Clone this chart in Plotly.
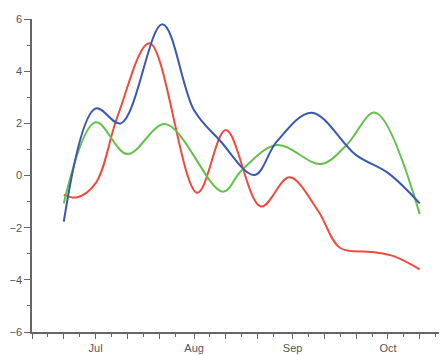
import plotly.graph_objects as go

blue_dates = ["2021-06-21", "2021-07-01", "2021-07-09", "2021-07-22", "2021-08-01", "2021-08-09",
              "2021-08-20", "2021-08-27", "2021-09-07", "2021-09-21", "2021-10-01", "2021-10-11"]
blue_vals = [-1.77, 2.57, 2.0, 5.8, 2.5, 1.36, 0.02, 1.3, 2.41, 0.78, 0.1, -1.07]

green_dates = ["2021-06-21", "2021-07-01", "2021-07-11", "2021-07-23", "2021-08-10", "2021-08-16",
               "2021-08-27", "2021-09-10", "2021-09-18", "2021-09-27", "2021-10-11"]
green_vals = [-1.07, 2.04, 0.82, 1.97, -0.62, 0.2, 1.17, 0.44, 1.17, 2.41, -1.48]

red_dates = ["2021-06-21", "2021-06-25", "2021-07-01", "2021-07-08", "2021-07-18", "2021-08-02",
             "2021-08-11", "2021-08-22", "2021-08-31", "2021-09-09", "2021-09-16", "2021-09-26",
             "2021-10-03", "2021-10-11"]
red_vals = [-0.73, -0.84, -0.3, 2.3, 5.07, -0.66, 1.74, -1.19, -0.07, -1.35, -2.78, -2.93,
            -3.1, -3.6]

month_ticks = ["2021-06-11", "2021-06-21", "2021-07-01", "2021-07-11", "2021-07-21", "2021-08-01",
               "2021-08-11", "2021-08-21", "2021-09-01", "2021-09-11", "2021-09-21", "2021-10-01",
               "2021-10-11"]
month_labels = ["", "", "Jul", "", "", "Aug", "", "", "Sep", "", "", "Oct", ""]
minor_ticks = ["2021-06-16", "2021-06-26", "2021-07-06", "2021-07-16", "2021-07-26", "2021-08-06",
               "2021-08-16", "2021-08-26", "2021-09-06", "2021-09-16", "2021-09-26", "2021-10-06",
               "2021-10-16"]
y_ticks = [-6, -4, -2, 0, 2, 4, 6]

fig = go.Figure()
for d, v, c in [(red_dates, red_vals, "#f04a3e"),
                (green_dates, green_vals, "#66bf4c"),
                (blue_dates, blue_vals, "#3a58b0")]:
    fig.add_trace(go.Scatter(x=d, y=v, mode="lines", line=dict(color=c, width=2, shape="spline"),
                             showlegend=False, hoverinfo="skip"))

axis_col = "#666666"
fig.update_layout(
    width=439, height=347,
    margin=dict(l=24, r=0, t=11, b=23),
    paper_bgcolor="white", plot_bgcolor="white",
    font=dict(family="Liberation Sans, Arial", size=11, color="#555555"),
    xaxis=dict(
        range=["2021-06-11", "2021-10-19 14:00"],
        tickmode="array", tickvals=month_ticks, ticktext=month_labels,
        ticks="outside", ticklen=5, tickwidth=1.3, tickcolor=axis_col,
        showline=True, linecolor=axis_col, linewidth=1.5,
        showgrid=False, zeroline=False,
        minor=dict(tickmode="array", tickvals=minor_ticks, ticks="outside",
                   ticklen=3, tickwidth=1.3, tickcolor=axis_col, showgrid=False),
    ),
    yaxis=dict(
        range=[-6, 6],
        tickmode="array", tickvals=y_ticks,
        ticks="outside", ticklen=6, tickwidth=1.3, tickcolor=axis_col,
        showline=True, linecolor=axis_col, linewidth=1.5,
        showgrid=False, zeroline=False,
        minor=dict(dtick=1, ticks="outside", ticklen=3, tickwidth=1.3,
                   tickcolor=axis_col, showgrid=False),
    ),
)

fig.write_html("out.html")
